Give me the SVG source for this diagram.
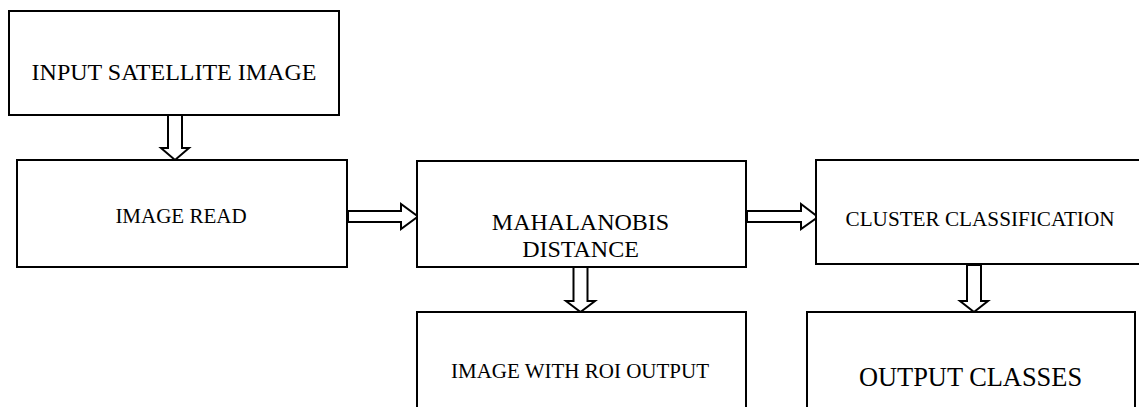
<svg xmlns="http://www.w3.org/2000/svg" width="1139" height="407" viewBox="0 0 1139 407">
  <style>
    .box { fill: #ffffff; stroke: #000000; stroke-width: 2; }
    .arrow { fill: #ffffff; stroke: #000000; stroke-width: 2; stroke-linejoin: miter; }
    .label { font-family: "Liberation Serif", "Times New Roman", serif; fill: #000000; text-anchor: middle; }
  </style>
  <rect width="1139" height="407" fill="#ffffff"/>

  <!-- block arrows between steps -->
  <g id="connectors">
    <!-- input -> image read -->
    <polygon class="arrow" points="168,115 182,115 182,148 189,148 175,160 161,148 168,148"/>
    <!-- image read -> mahalanobis -->
    <polygon class="arrow" points="348,211 401,211 401,204 418,216.5 401,229 401,222 348,222"/>
    <!-- mahalanobis -> roi output -->
    <polygon class="arrow" points="573.5,267 587.5,267 587.5,301 595,301 580.5,312 566,301 573.5,301"/>
    <!-- mahalanobis -> cluster classification -->
    <polygon class="arrow" points="747,211 801,211 801,204 818,217 801,229 801,222 747,222"/>
    <!-- cluster classification -> output classes -->
    <polygon class="arrow" points="967,265 981,265 981,301 988,301 974,312 960,301 967,301"/>
  </g>

  <g id="input-satellite-image">
    <rect class="box" x="9" y="11" width="330" height="104"/>
    <text class="label" x="174" y="80" font-size="24">INPUT SATELLITE IMAGE</text>
  </g>

  <g id="image-read">
    <rect class="box" x="17" y="160" width="330" height="107"/>
    <text class="label" x="181" y="223" font-size="21">IMAGE READ</text>
  </g>

  <g id="mahalanobis-distance">
    <rect class="box" x="417" y="161" width="329" height="106"/>
    <text class="label" x="580.5" y="230" font-size="24">MAHALANOBIS</text>
    <text class="label" x="580.5" y="256.5" font-size="24">DISTANCE</text>
  </g>

  <g id="image-with-roi-output">
    <rect class="box" x="417" y="312" width="329" height="110"/>
    <text class="label" x="580" y="378" font-size="21">IMAGE WITH ROI OUTPUT</text>
  </g>

  <g id="cluster-classification">
    <rect class="box" x="816" y="160" width="340" height="104"/>
    <text class="label" x="980" y="226" font-size="21.2">CLUSTER CLASSIFICATION</text>
  </g>

  <g id="output-classes">
    <rect class="box" x="807" y="312" width="328" height="110"/>
    <text class="label" x="970.5" y="386" font-size="26.4">OUTPUT CLASSES</text>
  </g>
</svg>
